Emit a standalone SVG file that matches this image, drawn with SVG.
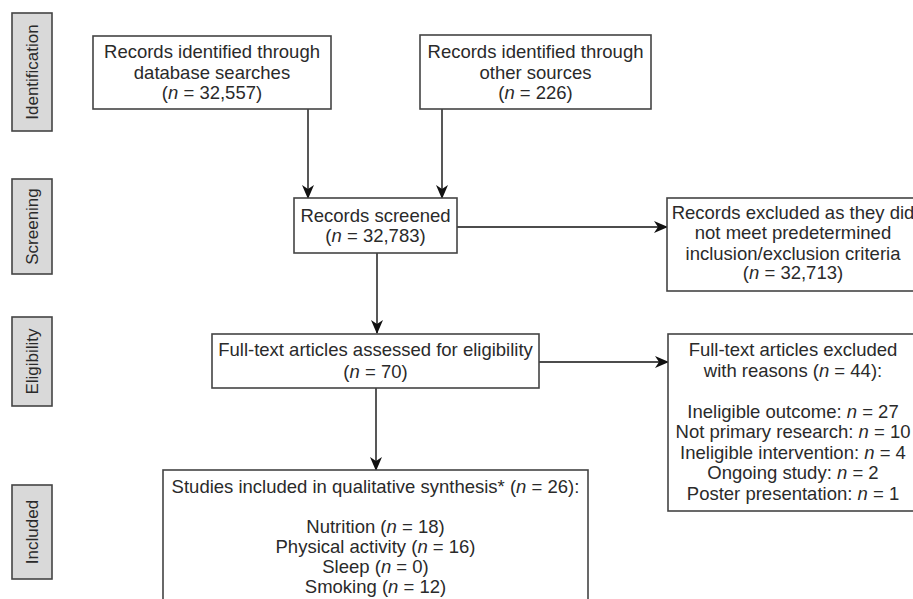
<svg xmlns="http://www.w3.org/2000/svg" width="913" height="599" viewBox="0 0 913 599">
<style>
.bx{fill:#fff;stroke:#444;stroke-width:1.6}
.side{fill:#d9d9d9;stroke:#444;stroke-width:1.6}
.t{font-family:"Liberation Sans",Arial,sans-serif;font-size:18.5px;fill:#2a2a2a;text-anchor:middle}
.s{font-family:"Liberation Sans",Arial,sans-serif;font-size:17px;fill:#2a2a2a;text-anchor:middle}
.c{stroke:#111;stroke-width:1.4;fill:none;marker-end:url(#ah)}
</style>
<defs>
<marker id="ah" viewBox="0 0 14 12" refX="13" refY="6" markerWidth="14" markerHeight="12" markerUnits="userSpaceOnUse" orient="auto">
<path d="M0,0 L14,6 L0,12 L4,6 Z" fill="#111"/>
</marker>
</defs>
<rect width="913" height="599" fill="#fff"/>
<g id="phase-identification"><rect class="side" x="12" y="13" width="40" height="118"/><text class="s" transform="translate(38,72) rotate(-90)">Identification</text></g>
<g id="phase-screening"><rect class="side" x="12" y="179" width="40" height="95"/><text class="s" transform="translate(38,226.5) rotate(-90)">Screening</text></g>
<g id="phase-eligibility"><rect class="side" x="12" y="317" width="40" height="89"/><text class="s" transform="translate(38,361.5) rotate(-90)">Eligibility</text></g>
<g id="phase-included"><rect class="side" x="12" y="485" width="40" height="94"/><text class="s" transform="translate(38,532) rotate(-90)">Included</text></g>

<g id="connectors">
<path class="c" d="M308,109 V198"/>
<path class="c" d="M442,109 V198"/>
<path class="c" d="M457,227 H667"/>
<path class="c" d="M377,253 V333"/>
<path class="c" d="M539,362 H668"/>
<path class="c" d="M376,388 V470"/>
</g>

<g id="db-records"><rect class="bx" x="93" y="36" width="238" height="73"/>
<text class="t" x="212" y="58">Records identified through</text>
<text class="t" x="212" y="79">database searches</text>
<text class="t" x="212" y="99">(<tspan font-style="italic">n</tspan> = 32,557)</text></g>

<g id="other-records"><rect class="bx" x="420" y="35" width="231" height="74"/>
<text class="t" x="535.5" y="58">Records identified through</text>
<text class="t" x="535.5" y="79">other sources</text>
<text class="t" x="535.5" y="99">(<tspan font-style="italic">n</tspan> = 226)</text></g>

<g id="screened"><rect class="bx" x="294" y="198" width="163" height="55"/>
<text class="t" x="375.5" y="222">Records screened</text>
<text class="t" x="375.5" y="242">(<tspan font-style="italic">n</tspan> = 32,783)</text></g>

<g id="excluded-screen"><rect class="bx" x="667" y="198" width="260" height="93"/>
<text class="t" x="793" y="219">Records excluded as they did</text>
<text class="t" x="793" y="239">not meet predetermined</text>
<text class="t" x="793" y="260">inclusion/exclusion criteria</text>
<text class="t" x="793" y="279">(<tspan font-style="italic">n</tspan> = 32,713)</text></g>

<g id="fulltext"><rect class="bx" x="212" y="334" width="327" height="54"/>
<text class="t" x="375.5" y="356">Full-text articles assessed for eligibility</text>
<text class="t" x="375.5" y="378">(<tspan font-style="italic">n</tspan> = 70)</text></g>

<g id="excluded-fulltext"><rect class="bx" x="668" y="334" width="260" height="177"/>
<text class="t" x="793" y="356">Full-text articles excluded</text>
<text class="t" x="793" y="376.5">with reasons (<tspan font-style="italic">n</tspan> = 44):</text>
<text class="t" x="793" y="417.5">Ineligible outcome: <tspan font-style="italic">n</tspan> = 27</text>
<text class="t" x="793" y="438">Not primary research: <tspan font-style="italic">n</tspan> = 10</text>
<text class="t" x="793" y="458.5">Ineligible intervention: <tspan font-style="italic">n</tspan> = 4</text>
<text class="t" x="793" y="479">Ongoing study: <tspan font-style="italic">n</tspan> = 2</text>
<text class="t" x="793" y="499.5">Poster presentation: <tspan font-style="italic">n</tspan> = 1</text></g>

<g id="included"><rect class="bx" x="163" y="470" width="425" height="140"/>
<text class="t" x="375.5" y="493">Studies included in qualitative synthesis* (<tspan font-style="italic">n</tspan> = 26):</text>
<text class="t" x="375.5" y="533">Nutrition (<tspan font-style="italic">n</tspan> = 18)</text>
<text class="t" x="375.5" y="553">Physical activity (<tspan font-style="italic">n</tspan> = 16)</text>
<text class="t" x="375.5" y="573">Sleep (<tspan font-style="italic">n</tspan> = 0)</text>
<text class="t" x="375.5" y="593">Smoking (<tspan font-style="italic">n</tspan> = 12)</text></g>
</svg>
